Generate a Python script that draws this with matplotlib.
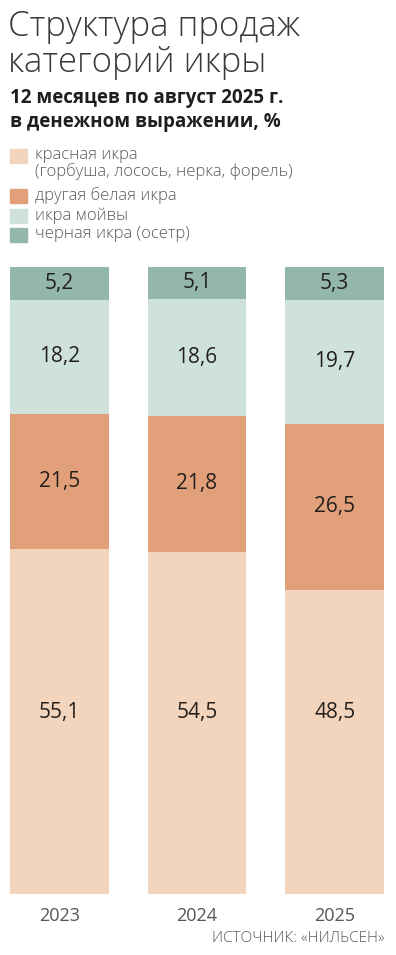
import matplotlib
matplotlib.use("Agg")
import matplotlib.pyplot as plt
from matplotlib.patches import Rectangle
import numpy as np

# =====================
# DATA
# =====================
years = ["2023", "2024", "2025"]
red_caviar = [55.1, 54.5, 48.5]
white_caviar = [21.5, 21.8, 26.5]
capelin_caviar = [18.2, 18.6, 19.7]
black_caviar = [5.2, 5.1, 5.3]

series = [red_caviar, white_caviar, capelin_caviar, black_caviar]
legend_labels = [
    "красная икра\n(горбуша, лосось, нерка, форель)",
    "другая белая икра",
    "икра мойвы",
    "черная икра (осетр)",
]
colors = ["#F3D4BC", "#E1A07A", "#CFE1DB", "#93B7AD"]

title = "Структура продаж\nкатегорий икры"
subtitle = "12 месяцев по август 2025 г.\nв денежном выражении, %"
source = "ИСТОЧНИК: «НИЛЬСЕН»"

FONT = "Open Sans"
W, H = 396, 955

fig = plt.figure(figsize=(W / 100, H / 100), dpi=100)
fig.patch.set_facecolor("white")

# =====================
# BARS
# =====================
ax = fig.add_axes([10 / W, 61 / H, 374 / W, 627 / H])
x = np.arange(len(years))
bar_w = 99 / 138
bottom = np.zeros(len(years))
for i, (vals, col) in enumerate(zip(series, colors)):
    vals = np.array(vals)
    ax.bar(x, vals, bottom=bottom, width=bar_w, color=col, edgecolor="none")
    for xi, b, v in zip(x, bottom, vals):
        ypos = 29 if i == 0 else b + v / 2
        ax.text(xi, ypos, f"{v:.1f}".replace(".", ","), ha="center", va="center",
                fontsize=15, color="#231f1c", family=FONT)
    bottom += vals

ax.set_xlim(-bar_w / 2, len(years) - 1 + bar_w / 2)
ax.set_ylim(0, 100)
ax.set_xticks(x)
ax.set_xticklabels(years, fontsize=13, color="#555555", family=FONT)
ax.tick_params(axis="x", length=0, pad=9)
ax.set_yticks([])
for s in ax.spines.values():
    s.set_visible(False)

# =====================
# TEXT
# =====================
fig.text(8 / W, 1 - 10 / H, title, ha="left", va="top", fontsize=25,
         color="#3a3a3a", family=FONT, fontweight="light", linespacing=1.04)
fig.text(10 / W, 1 - 88 / H, subtitle, ha="left", va="top", fontsize=13.5,
         color="#1e1e1e", family=FONT, fontweight="bold", linespacing=1.25)

# legend
leg_rows = [156, 196, 216, 235]
for lab, col, yc in zip(legend_labels, colors, leg_rows):
    fig.patches.append(Rectangle((10 / W, 1 - (yc + 7) / H), 17 / W, 14 / H,
                                 transform=fig.transFigure, color=col, figure=fig))
    fig.text(35 / W, 1 - (yc - 9) / H, lab, ha="left", va="top", fontsize=12,
             color="#5a5a5a", family=FONT, fontweight="light", linespacing=1.0)

fig.text(384 / W, 1 - 938 / H, source, ha="right", va="center", fontsize=11,
         color="#5a5a5a", family=FONT, fontweight="light")

fig.savefig("out.png", dpi=100, facecolor="white")
